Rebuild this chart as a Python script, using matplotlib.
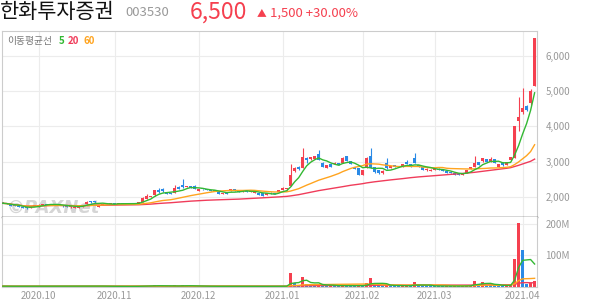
import numpy as np
import pandas as pd
import matplotlib
matplotlib.use("Agg")
import matplotlib.pyplot as plt
import matplotlib.ticker as mticker

plt.rcParams['font.family'] = ['Noto Sans CJK KR', 'DejaVu Sans']

# daily candles (open, high, low, close), 2020-09-17 .. 2021-04-06 ---------------------------
opens = [1850, 1815, 1795, 1770, 1735, 1715, 1700, 1680, 1730, 1730,
         1775, 1795, 1780, 1790, 1775, 1760, 1760, 1700, 1690, 1685,
         1715, 1795, 1880, 1880, 1720, 1760, 1795, 1800, 1805, 1800,
         1810, 1800, 1805, 1800, 1795, 1845, 1950, 1990, 2040, 2190,
         2220, 2135, 2100, 2120, 2285, 2335, 2270, 2305, 2320, 2175,
         2215, 2215, 2200, 2200, 2145, 2085, 2130, 2165, 2220, 2165,
         2130, 2165, 2150, 2110, 2115, 2095, 2060, 2120, 2100, 2130,
         2195, 2210, 2310, 2735, 2855, 2830, 3110, 3060, 3085, 3215,
         2970, 2830, 2930, 2925, 2965, 2970, 3155, 3025, 2840, 2810,
         2620, 2830, 3165, 2840, 2760, 2670, 2950, 2830, 2900, 2860,
         2860, 3000, 2930, 3095, 2870, 2840, 2750, 2740, 2770, 2800,
         2780, 2740, 2710, 2665, 2650, 2630, 2670, 2785, 2855, 2980,
         3015, 3065, 3000, 3060, 2860, 2965, 2895, 3045, 3095, 4160,
         4420, 4580, 4660, 5160]
highs = [1860, 1825, 1800, 1780, 1745, 1720, 1710, 1730, 1780, 1790,
         1800, 1805, 1800, 1800, 1790, 1765, 1770, 1740, 1725, 1720,
         1780, 1875, 1890, 1885, 1755, 1800, 1810, 1810, 1815, 1815,
         1815, 1810, 1810, 1820, 1860, 1985, 2070, 2035, 2200, 2250,
         2240, 2140, 2110, 2330, 2300, 2500, 2310, 2310, 2330, 2225,
         2225, 2220, 2205, 2205, 2150, 2100, 2135, 2225, 2230, 2170,
         2165, 2170, 2165, 2170, 2120, 2100, 2115, 2125, 2105, 2205,
         2280, 2260, 2920, 2840, 2870, 3390, 3120, 3140, 3170, 3340,
         2980, 2910, 2940, 2975, 2970, 3120, 3170, 3030, 2850, 2820,
         2770, 3140, 3380, 2850, 2770, 2750, 3110, 2880, 2910, 2885,
         2925, 3050, 2940, 3235, 2880, 2850, 2810, 2780, 2805, 2805,
         2785, 2745, 2715, 2670, 2655, 2675, 2765, 2840, 3150, 2990,
         3115, 3070, 3140, 3070, 2940, 2975, 2990, 3130, 4010, 4840,
         5080, 4600, 5050, 6500]
lows = [1810, 1790, 1745, 1735, 1700, 1670, 1665, 1675, 1725, 1720,
        1765, 1770, 1765, 1770, 1755, 1720, 1715, 1695, 1685, 1680,
        1710, 1790, 1835, 1835, 1715, 1755, 1785, 1790, 1795, 1795,
        1795, 1795, 1795, 1795, 1790, 1840, 1940, 1980, 2030, 2110,
        2150, 2075, 2080, 2110, 2225, 2260, 2265, 2245, 2210, 2170,
        2200, 2185, 2155, 2165, 2080, 2080, 2075, 2160, 2175, 2125,
        2125, 2145, 2145, 2105, 2050, 2030, 2055, 2075, 2080, 2125,
        2190, 2205, 2300, 2700, 2770, 2820, 2950, 3050, 3080, 3040,
        2850, 2820, 2850, 2920, 2900, 2960, 3020, 2930, 2785, 2610,
        2610, 2810, 2820, 2690, 2660, 2660, 2800, 2820, 2855, 2855,
        2855, 2920, 2855, 2950, 2860, 2760, 2740, 2730, 2765, 2765,
        2730, 2685, 2665, 2620, 2625, 2625, 2665, 2780, 2845, 2900,
        3000, 2995, 2995, 2950, 2850, 2880, 2890, 3040, 3090, 3870,
        4350, 4450, 4600, 5150]
closes = [1815, 1800, 1750, 1740, 1705, 1675, 1670, 1725, 1770, 1775,
          1795, 1780, 1790, 1775, 1760, 1725, 1720, 1730, 1720, 1715,
          1770, 1865, 1845, 1840, 1750, 1795, 1800, 1805, 1800, 1810,
          1800, 1805, 1800, 1815, 1850, 1975, 2020, 2020, 2190, 2140,
          2160, 2080, 2090, 2250, 2235, 2275, 2305, 2250, 2220, 2215,
          2210, 2190, 2160, 2170, 2085, 2095, 2080, 2220, 2180, 2130,
          2160, 2150, 2160, 2160, 2055, 2035, 2110, 2080, 2085, 2200,
          2250, 2250, 2620, 2810, 2785, 3130, 3055, 3130, 3160, 3045,
          2860, 2900, 2855, 2965, 2905, 3110, 3030, 2935, 2790, 2620,
          2760, 3095, 2830, 2700, 2670, 2740, 2810, 2875, 2860, 2870,
          2920, 2925, 2860, 2955, 2865, 2770, 2800, 2770, 2800, 2770,
          2735, 2690, 2670, 2625, 2630, 2670, 2760, 2835, 2950, 2905,
          3110, 3000, 3060, 2955, 2930, 2890, 2985, 3120, 4010, 4270,
          4530, 4470, 5000, 6500]
# volume in millions of shares
volumes = [1.2, 0.9, 1.1, 0.8, 1.0, 1.3, 0.9, 1.1, 1.4, 1.0,
           0.9, 0.8, 1.0, 0.7, 0.9, 1.1, 0.8, 0.9, 0.7, 0.8,
           1.2, 2.0, 1.5, 1.1, 1.3, 0.9, 0.7, 0.8, 0.6, 0.7,
           0.6, 0.5, 0.6, 0.8, 1.5, 2.5, 2.2, 1.8, 3.6, 2.2,
           1.6, 1.2, 1.0, 3.5, 2.0, 3.4, 1.8, 1.4, 1.9, 1.0,
           0.9, 0.8, 0.9, 0.8, 1.0, 0.7, 0.8, 1.2, 0.9, 0.8,
           0.7, 0.6, 0.6, 0.7, 0.9, 0.8, 0.7, 0.6, 0.6, 1.3,
           1.6, 1.5, 42.0, 12.0, 6.0, 32.0, 9.0, 6.0, 5.0, 8.0,
           4.0, 3.0, 3.0, 2.5, 2.2, 4.0, 3.5, 2.5, 2.0, 3.0,
           2.5, 10.0, 26.0, 8.0, 4.0, 3.0, 5.0, 3.0, 2.5, 2.0,
           2.0, 3.0, 2.5, 13.0, 3.0, 2.2, 2.0, 1.8, 1.6, 1.5,
           1.4, 1.6, 1.5, 1.6, 1.3, 1.5, 2.5, 3.5, 19.0, 8.0,
           13.0, 6.0, 5.0, 4.0, 3.0, 2.5, 3.0, 5.0, 89.0, 205.0,
           118.0, 9.0, 12.0, 17.0]

month_pos = [9, 28, 49, 70, 90, 108, 130]
month_labels = ["2020.10", "2020.11", "2020.12", "2021.01", "2021.02", "2021.03", "2021.04"]
price_ticks = [2000, 3000, 4000, 5000, 6000]
vol_ticks = [100, 200]

# colours ------------------------------------------------------------------------------------
UP = "#f5404f"
DOWN = "#2a8ae6"
MA5_C = "#33b833"
MA20_C = "#ffa41f"
MA60_C = "#f03c5a"
GRID = "#ececec"
BORDER = "#cccccc"
TXT = "#999999"

df = pd.DataFrame({"o": opens, "h": highs, "l": lows, "c": closes, "v": volumes})
x = np.arange(len(df))
up = df["c"] >= df["o"]
ccol = np.where(up, UP, DOWN)
vup = df["v"] >= df["v"].shift(1).fillna(0)
vcol = np.where(vup, UP, DOWN)

fig = plt.figure(figsize=(5.94, 3.04), dpi=100, facecolor="white")
L, R = 2 / 594, 537 / 594
ax_p = fig.add_axes([L, 1 - 217 / 304, R - L, (217 - 31) / 304])
ax_v = fig.add_axes([L, 1 - 287 / 304, R - L, (287 - 217) / 304], sharex=ax_p)

# grids
for m in month_pos:
    ax_p.axvline(m, color=GRID, lw=0.8, zorder=0)
    ax_v.axvline(m, color=GRID, lw=0.8, zorder=0)
for t in price_ticks:
    ax_p.axhline(t, color=GRID, lw=0.8, zorder=0)
for t in vol_ticks:
    ax_v.axhline(t, color=GRID, lw=0.8, zorder=0)

# candles
ax_p.vlines(x, df["l"], df["h"], colors=ccol, lw=0.8, zorder=2)
body_low = np.minimum(df["o"], df["c"])
body_h = np.maximum(np.abs(df["c"] - df["o"]), 28)
ax_p.bar(x, body_h, bottom=body_low, width=0.68, color=ccol, lw=0, zorder=3)

ax_p.plot(x, df["c"].rolling(60, min_periods=1).mean(), color=MA60_C, lw=1.0, zorder=4)
ax_p.plot(x, df["c"].rolling(20, min_periods=1).mean(), color=MA20_C, lw=1.0, zorder=4)
ax_p.plot(x, df["c"].rolling(5, min_periods=1).mean(), color=MA5_C, lw=1.0, zorder=4)

ax_p.set_xlim(-0.2, 133.6)
ax_p.set_ylim(1426, 6710)
ax_p.yaxis.tick_right()
ax_p.set_yticks(price_ticks)
ax_p.yaxis.set_major_formatter(mticker.FuncFormatter(lambda v, p: f"{int(v):,}"))
ax_p.tick_params(axis="y", length=0, pad=6, labelsize=7, labelcolor=TXT)
ax_p.tick_params(axis="x", length=0, labelbottom=False)

# volume panel
ax_v.bar(x, df["v"], width=0.68, color=vcol, lw=0, zorder=2)
ax_v.plot(x, df["v"].rolling(60, min_periods=1).mean(), color=MA60_C, lw=1.0, zorder=4)
ax_v.plot(x, df["v"].rolling(20, min_periods=1).mean(), color=MA20_C, lw=1.0, zorder=4)
ax_v.plot(x, df["v"].rolling(5, min_periods=1).mean(), color=MA5_C, lw=1.0, zorder=4)
ax_v.set_ylim(-1.5, 223)
ax_v.yaxis.tick_right()
ax_v.set_yticks(vol_ticks)
ax_v.yaxis.set_major_formatter(mticker.FuncFormatter(lambda v, p: f"{int(v)}M"))
ax_v.tick_params(axis="y", length=0, pad=6, labelsize=7, labelcolor=TXT)
ax_v.set_xticks(month_pos)
ax_v.set_xticklabels(month_labels)
ax_v.tick_params(axis="x", length=0, pad=3, labelsize=7, labelcolor=TXT)

for ax in (ax_p, ax_v):
    for s in ax.spines.values():
        s.set_color(BORDER)
        s.set_linewidth(0.8)
ax_p.spines["bottom"].set_color("#333333")
ax_p.spines["bottom"].set_linewidth(1.0)
ax_v.spines["top"].set_visible(False)

# watermark + legend
ax_p.text(0.008, 0.025, "©PAXNet", transform=ax_p.transAxes, fontsize=13, fontweight="bold",
          fontstyle="italic", color="#888888", alpha=0.35, family="DejaVu Sans", zorder=1)
ax_p.text(0.009, 0.946, "이동평균선", transform=ax_p.transAxes, fontsize=7, color="#777777", va="center")
ax_p.text(0.106, 0.946, "5", transform=ax_p.transAxes, fontsize=7, color=MA5_C, va="center", fontweight="bold")
ax_p.text(0.123, 0.946, "20", transform=ax_p.transAxes, fontsize=7, color=MA60_C, va="center", fontweight="bold")
ax_p.text(0.153, 0.946, "60", transform=ax_p.transAxes, fontsize=7, color=MA20_C, va="center", fontweight="bold")

# header
fig.text(0 / 594, 1 - 12 / 304, "한화투자증권", fontsize=15, color="#111111", va="center")
fig.text(125 / 594, 1 - 13 / 304, "003530", fontsize=9.5, color=TXT, va="center")
fig.text(190 / 594, 1 - 12 / 304, "6,500", fontsize=16.5, color=UP, va="center")
fig.text(257 / 594, 1 - 13 / 304, "▲", fontsize=7, color=UP, va="center")
fig.text(270 / 594, 1 - 13 / 304, "1,500 +30.00%", fontsize=9.5, color=UP, va="center")

fig.savefig("out.png", dpi=100, facecolor="white")
